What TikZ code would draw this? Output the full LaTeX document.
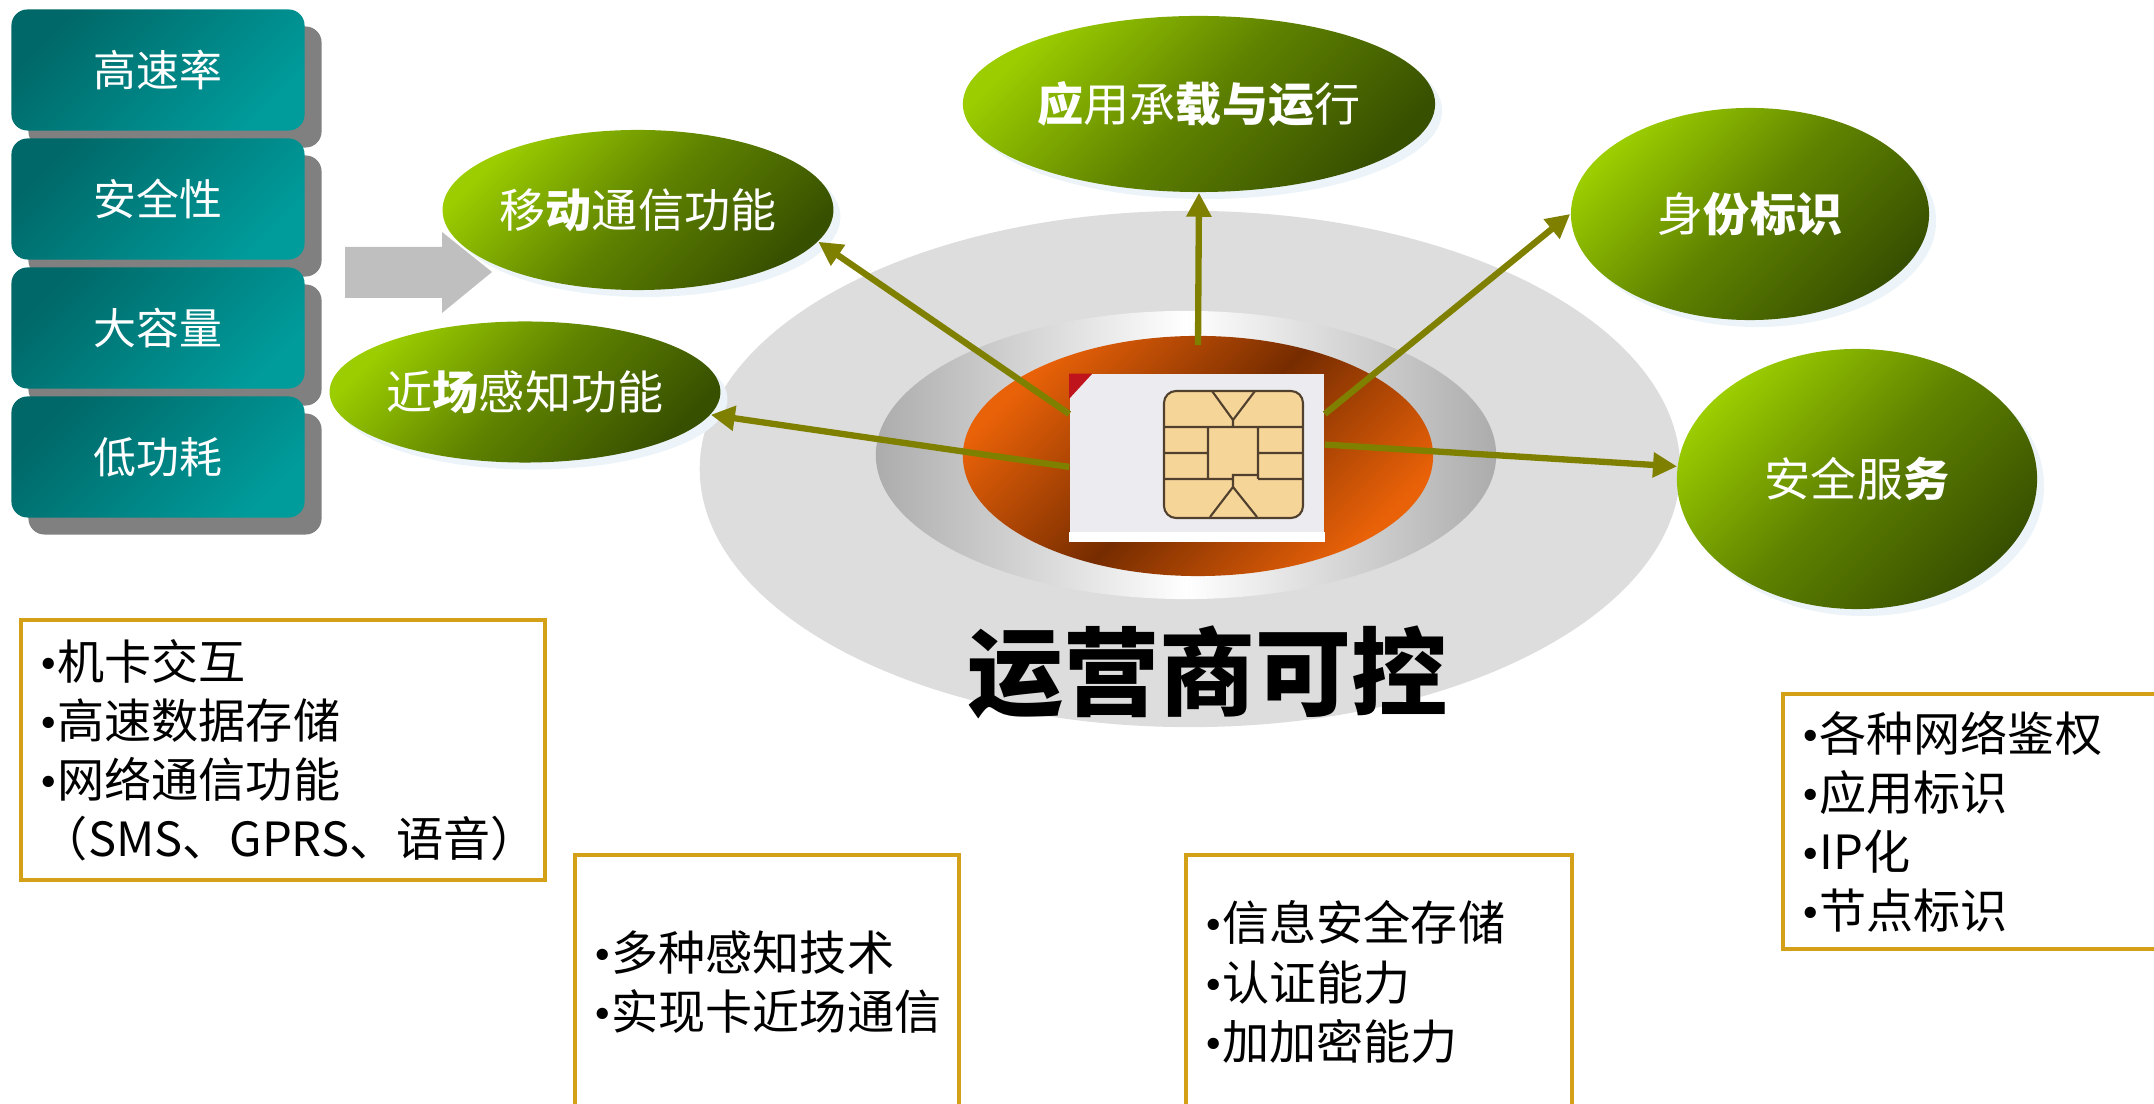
\documentclass[tikz,border=0pt]{standalone}
\usepackage{fontspec}
\setmainfont{Noto Sans CJK SC}
\newfontfamily\bulletfont{Liberation Serif}
\newcommand\bul{{\bulletfont •}}
\usetikzlibrary{shapes.geometric,arrows.meta,shadows,calc}

\definecolor{tealdark}{RGB}{0,104,104}
\definecolor{teallight}{RGB}{0,155,155}
\definecolor{grnlight}{RGB}{155,205,0}
\definecolor{grnmid}{RGB}{95,130,0}
\definecolor{grndark}{RGB}{55,80,0}
\definecolor{olive}{RGB}{128,128,0}
\definecolor{gold}{RGB}{212,160,23}
\definecolor{haze}{RGB}{236,244,250}
\definecolor{ringgray}{RGB}{172,172,172}
\definecolor{outergray}{RGB}{221,221,221}
\definecolor{hot}{RGB}{234,98,8}
\definecolor{rust}{RGB}{118,44,0}
\definecolor{chipbg}{RGB}{236,236,240}
\definecolor{simred}{RGB}{192,20,28}
\definecolor{pad}{RGB}{246,213,152}
\definecolor{padline}{RGB}{80,64,45}

\tikzset{
  propbox/.style={rectangle, rounded corners=0.16cm, minimum width=2.93cm, minimum height=1.21cm,
    top color=tealdark, bottom color=teallight, shading angle=45, text=white,
    font=\fontsize{12.2pt}{14pt}\selectfont,
    drop shadow={shadow xshift=0.17cm, shadow yshift=-0.17cm, fill=gray, opacity=1}},
  func/.style={ellipse, inner sep=0pt, text=white,
    top color=grnlight, bottom color=grndark, middle color=grnmid, shading angle=45,
    font=\fontsize{13.1pt}{15pt}\selectfont,
    drop shadow={shadow xshift=0.07cm, shadow yshift=-0.07cm, fill=haze, opacity=1}},
  featbox/.style={draw=gold, line width=1.1pt, anchor=north west, align=left, inner xsep=0.2cm,
    font=\fontsize{13.4pt}{16.8pt}\selectfont},
  link/.style={olive, line width=1.8pt, -{Triangle[length=0.24cm, width=0.24cm]}}
}

\begin{document}
\begin{tikzpicture}[x=0.01cm, y=-0.01cm]
\useasboundingbox (0,0) rectangle (2154,1104);
\clip (0,0) rectangle (2154,1104);

\foreach \txt [count=\i] in {高速率,安全性,大容量,低功耗}
  \node[propbox] (prop\i) at (158, {70+129*(\i-1)}) {\txt};

\fill[gray!50] (345,247) -- (442,247) -- (442,232) -- (492,272) -- (442,313) -- (442,298) -- (345,298) -- cycle;

\node[ellipse, fill=outergray, minimum width=9.8cm, minimum height=5.16cm] (halo) at (1190,469) {};
\node[ellipse, minimum width=6.2cm, minimum height=2.88cm,
  left color=ringgray, right color=ringgray, middle color=white] (ring) at (1186,455) {};
\node[ellipse, minimum width=4.7cm, minimum height=2.4cm,
  top color=hot, bottom color=hot, middle color=rust, shading angle=45] (core) at (1198,456) {};

\node[rectangle, fill=chipbg, minimum width=2.54cm, minimum height=1.67cm, inner sep=0pt] (sim) at (1197,458) {};
\fill[white] (sim.south west) rectangle ($(sim.south east)+(0,-10)$);
\fill[simred] (sim.north west) -- ++(23,0) -- ++(-23,25) -- cycle;
\draw[padline, line width=0.6pt, fill=pad, rounded corners=0.12cm] (1164,391) rectangle (1303,518);
\draw[padline, line width=0.6pt]
  (1164,427) -- (1303,427)
  (1212,391) -- (1233,420) -- (1255,391) (1233,420) -- (1233,427)
  (1208,427) -- (1208,479) (1258,427) -- (1258,479)
  (1164,453) -- (1208,453) (1258,453) -- (1303,453)
  (1164,479) -- (1233,479) (1258,479) -- (1303,479)
  (1258,475) -- (1233,475) -- (1233,487)
  (1210,517) -- (1233,487) -- (1257,517);

\node[font=\fontsize{27.3pt}{30pt}\selectfont\bfseries] (ctrl) at (1207,672) {运营商可控};

\node[func, minimum width=3.6cm, minimum height=1.6cm] (mobile) at (638,210) {移\textbf{动}通信功能};
\node[func, minimum width=3.5cm, minimum height=1.41cm] (nfc) at (525,392) {近\textbf{场}感知功能};
\node[func, minimum width=4.72cm, minimum height=1.76cm] (app) at (1199,104) {\textbf{应}用承\textbf{载与运}行};
\node[func, minimum width=3.58cm, minimum height=2.12cm] (ident) at (1750,214) {身\textbf{份标识}};
\node[func, minimum width=3.6cm, minimum height=2.6cm] (secure) at (1857,479) {安全服\textbf{务}};

\coordinate (hub) at ($(core.north)+(0,10)$);
\foreach \a/\b in {sim.161/mobile.-10, sim.184/nfc.-7, hub/app.south, sim.19/ident.west, sim.6/secure.176}
  \draw[link] (\a) -- (\b);

\node[featbox, text width=4.84cm, minimum height=2.6cm] (boxA) at (19,618)
  {\bul 机卡交互\\\bul 高速数据存储\\\bul 网络通信功能\\（SMS、GPRS、语音）};
\node[featbox, text width=3.44cm, minimum height=2.54cm] (boxB) at (573,853)
  {\bul 多种感知技术\\\bul 实现卡近场通信};
\node[featbox, text width=3.46cm, minimum height=2.54cm] (boxC) at (1184,853)
  {\bul 信息安全存储\\\bul 认证能力\\\bul 加加密能力};
\node[featbox, text width=3.6cm, minimum height=2.55cm] (boxD) at (1781,692)
  {\bul 各种网络鉴权\\\bul 应用标识\\\bul IP化\\\bul 节点标识};

\end{tikzpicture}
\end{document}
